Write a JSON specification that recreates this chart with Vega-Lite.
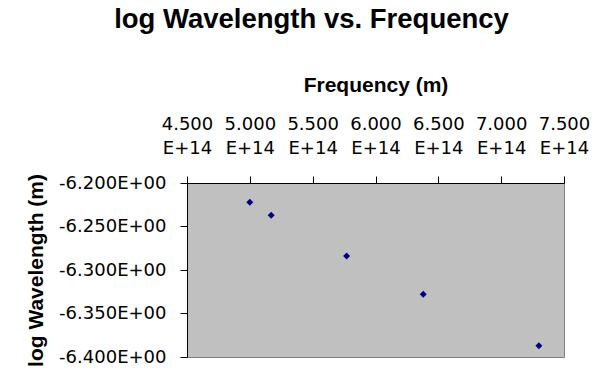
{
  "$schema": "https://vega.github.io/schema/vega-lite/v6.json",
  "width": 377,
  "height": 174,
  "autosize": {"type": "none"},
  "padding": {"left": 187, "top": 183, "right": 28, "bottom": 31},
  "background": "white",
  "title": {
    "text": "log Wavelength vs. Frequency",
    "font": "Liberation Sans",
    "fontSize": 27.5,
    "fontWeight": "bold",
    "color": "black",
    "anchor": "middle",
    "baseline": "alphabetic",
    "dx": -64,
    "offset": 19
  },
  "data": {
    "values": [
      {"freq": 5.00e14, "logw": -6.222},
      {"freq": 5.17e14, "logw": -6.237},
      {"freq": 5.77e14, "logw": -6.284},
      {"freq": 6.38e14, "logw": -6.328},
      {"freq": 7.30e14, "logw": -6.387}
    ]
  },
  "mark": {"type": "point", "shape": "diamond", "filled": true, "color": "#000080", "opacity": 1, "size": 49},
  "encoding": {
    "x": {
      "field": "freq",
      "type": "quantitative",
      "scale": {"domain": [4.5e14, 7.5e14], "zero": false, "nice": false},
      "axis": {
        "orient": "top",
        "values": [4.5e14, 5e14, 5.5e14, 6e14, 6.5e14, 7e14, 7.5e14],
        "labelExpr": "[format(datum.value/1e14,'.3f'),'E+14']",
        "labelFont": "DejaVu Sans",
        "labelFontSize": 18,
        "labelColor": "black",
        "labelLineHeight": 24.5,
        "labelPadding": 43,
        "labelOverlap": false,
        "labelFlush": false,
        "labelBound": false,
        "tickSize": 7,
        "tickColor": "black",
        "domainColor": "black",
        "grid": false,
        "title": "Frequency (m)",
        "titleFont": "Liberation Sans",
        "titleFontSize": 21,
        "titleFontWeight": "bold",
        "titleColor": "black",
        "titlePadding": 20
      }
    },
    "y": {
      "field": "logw",
      "type": "quantitative",
      "scale": {"domain": [-6.4, -6.2], "zero": false, "nice": false},
      "axis": {
        "values": [-6.4, -6.35, -6.3, -6.25, -6.2],
        "labelExpr": "'-' + format(abs(datum.value),'.3f') + 'E+00'",
        "labelFont": "DejaVu Sans",
        "labelFontSize": 18,
        "labelColor": "black",
        "labelPadding": 14,
        "labelOverlap": false,
        "labelFlush": false,
        "labelBound": false,
        "tickSize": 7,
        "tickColor": "black",
        "domainColor": "black",
        "grid": false,
        "title": "log Wavelength (m)",
        "titleFont": "Liberation Sans",
        "titleFontSize": 21,
        "titleFontWeight": "bold",
        "titleColor": "black",
        "titleX": -145,
        "titleBaseline": "alphabetic"
      }
    }
  },
  "config": {
    "view": {"fill": "#C0C0C0", "stroke": "#808080", "strokeWidth": 1}
  }
}
